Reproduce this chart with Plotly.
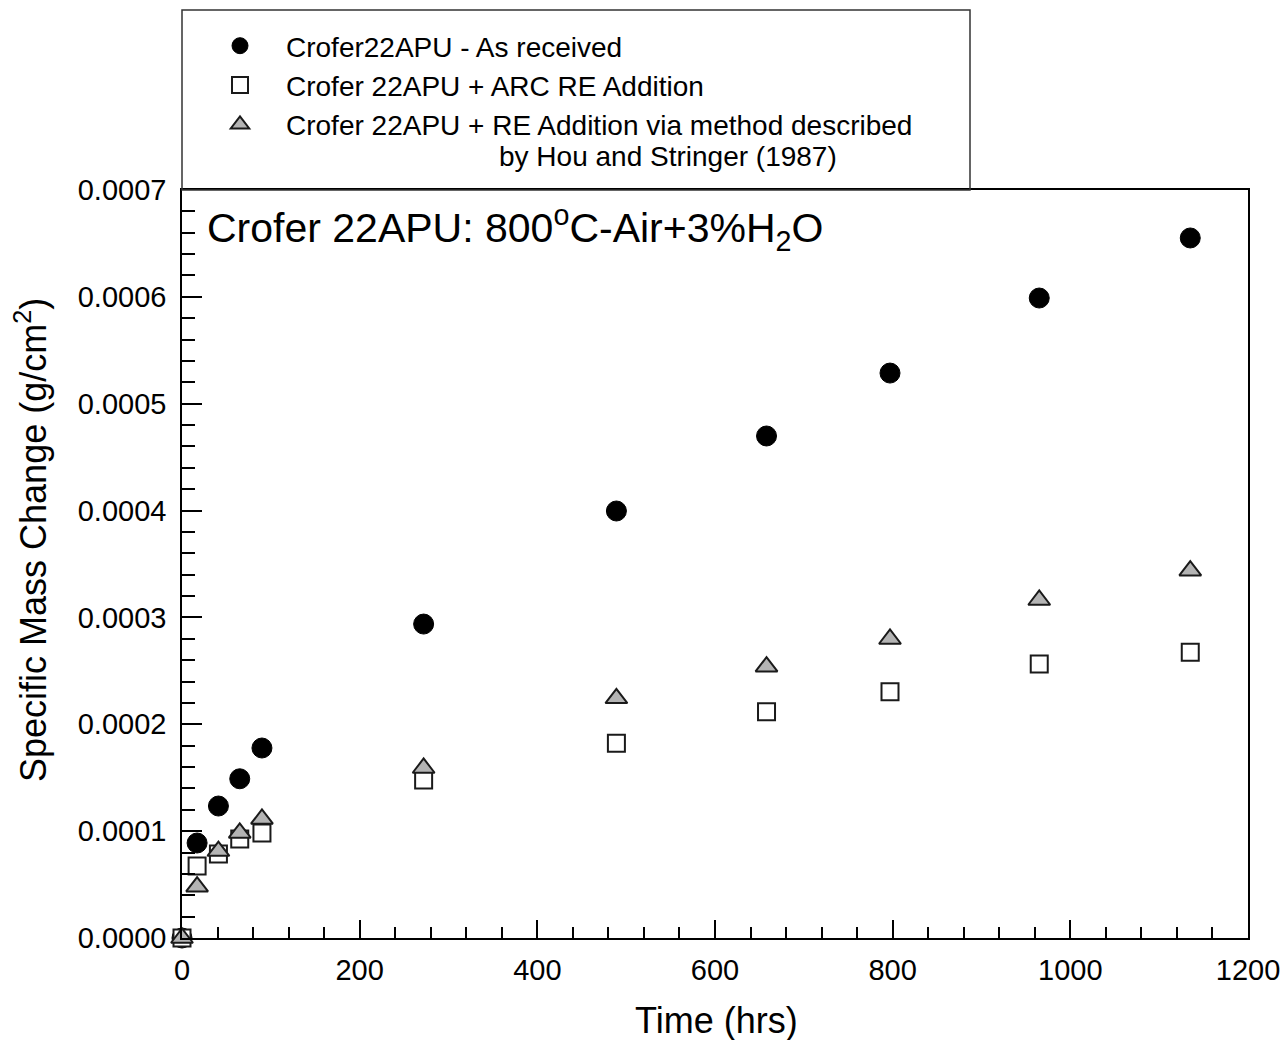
import plotly.graph_objects as go

# ---- data ----
time_hrs = [0, 17, 41, 65, 90, 272, 489, 658, 797, 965, 1135]
as_received = [0.0, 8.89e-5, 1.235e-4, 1.49e-4, 1.778e-4, 2.938e-4, 3.996e-4, 4.698e-4, 5.287e-4, 5.989e-4, 6.551e-4]
arc_re = [0.0, 6.74e-5, 7.86e-5, 9.26e-5, 9.83e-5, 1.479e-4, 1.822e-4, 2.118e-4, 2.305e-4, 2.564e-4, 2.674e-4]
hou_re = [0.0, 4.8e-5, 8.14e-5, 9.83e-5, 1.114e-4, 1.591e-4, 2.243e-4, 2.539e-4, 2.798e-4, 3.163e-4, 3.437e-4]

names = ["Crofer22APU - As received",
         "Crofer 22APU + ARC RE Addition",
         "Crofer 22APU + RE Addition via method described"]
name_cont = "by Hou and Stringer (1987)"
x_title = "Time (hrs)"
y_title = "Specific Mass Change (g/cm<sup>2</sup>)"
inset_text = "Crofer 22APU: 800<sup>o</sup>C-Air+3%H<sub>2</sub>O"

FONT = "Liberation Sans, Arial, sans-serif"

fig = go.Figure()
fig.add_trace(go.Scatter(x=time_hrs, y=as_received, mode="markers", name=names[0],
                         cliponaxis=False,
                         marker=dict(symbol="circle", size=20, color="black",
                                     line=dict(color="black", width=1))))
fig.add_trace(go.Scatter(x=time_hrs, y=arc_re, mode="markers", name=names[1],
                         cliponaxis=False,
                         marker=dict(symbol="square", size=17, color="white",
                                     line=dict(color="#1a1a1a", width=2))))
fig.add_trace(go.Scatter(x=time_hrs, y=hou_re, mode="markers", name=names[2],
                         cliponaxis=False,
                         marker=dict(symbol="triangle-up", size=19, color="#b4b4b4",
                                     line=dict(color="#1a1a1a", width=2))))

W, H = 1285, 1040
# reference plot area: x 182..1248, y 190..938
L, T = 182, 190
pw, ph = 1066, 748
R = W - L - pw
B = H - T - ph

def px2paper_x(px):
    return (px - L) / pw

def px2paper_y(py):
    return (T + ph - py) / ph

fig.update_layout(
    width=W, height=H,
    margin=dict(l=L, r=R, t=T, b=B, autoexpand=False),
    paper_bgcolor="white", plot_bgcolor="white",
    font=dict(family=FONT, color="black", size=28),
    showlegend=True,
    legend=dict(x=px2paper_x(194), y=px2paper_y(21), xanchor="left", yanchor="top",
                bgcolor="rgba(0,0,0,0)", borderwidth=0,
                font=dict(family=FONT, size=28, color="black"),
                itemwidth=82, tracegroupgap=0),
    xaxis=dict(range=[0, 1200], dtick=200, tick0=0,
               showline=True, linecolor="black", linewidth=1.5, mirror=True,
               ticks="inside", ticklen=18, tickwidth=1.5, tickcolor="black",
               minor=dict(dtick=40, ticks="inside", ticklen=11, tickwidth=1.5, tickcolor="black"),
               showgrid=False, zeroline=False,
               tickfont=dict(size=29, family=FONT),
               ticklabelstandoff=5, ticklabeloverflow="allow"),
    yaxis=dict(range=[0, 0.0007], dtick=0.0001, tick0=0, tickformat=".4f",
               showline=True, linecolor="black", linewidth=1.5, mirror=True,
               ticks="inside", ticklen=20, tickwidth=1.5, tickcolor="black",
               minor=dict(dtick=0.00002, ticks="inside", ticklen=13, tickwidth=1.5, tickcolor="black"),
               showgrid=False, zeroline=False,
               tickfont=dict(size=29, family=FONT),
               ticklabelstandoff=8),
)

# axis titles (placed as in the reference)
fig.add_annotation(text=y_title, xref="paper", yref="paper", textangle=-90,
                   x=px2paper_x(31), y=px2paper_y(540), xanchor="center", yanchor="middle",
                   showarrow=False, font=dict(family=FONT, size=36, color="black"))
fig.add_annotation(text=x_title, xref="paper", yref="paper",
                   x=px2paper_x(716), y=px2paper_y(1020), xanchor="center", yanchor="middle",
                   showarrow=False, font=dict(family=FONT, size=36, color="black"))

# legend frame above the plot
fig.add_shape(type="rect", xref="paper", yref="paper",
              x0=0, x1=px2paper_x(970), y0=1, y1=px2paper_y(10),
              line=dict(color="#333333", width=1.5), fillcolor="rgba(0,0,0,0)")

fig.add_annotation(text=name_cont, xref="paper", yref="paper",
                   x=px2paper_x(497), y=px2paper_y(156), xanchor="left", yanchor="middle",
                   showarrow=False, font=dict(family=FONT, size=28, color="black"))

fig.add_annotation(text=inset_text, xref="paper", yref="paper",
                   x=px2paper_x(205), y=px2paper_y(228), xanchor="left", yanchor="middle",
                   showarrow=False, font=dict(family=FONT, size=41, color="black"))

# remove the default 8px page margin so the figure fills the window exactly
fig.write_html("out.html",
               config={"displayModeBar": False},
               post_script="document.body.style.margin='0';document.body.style.overflow='hidden';")
